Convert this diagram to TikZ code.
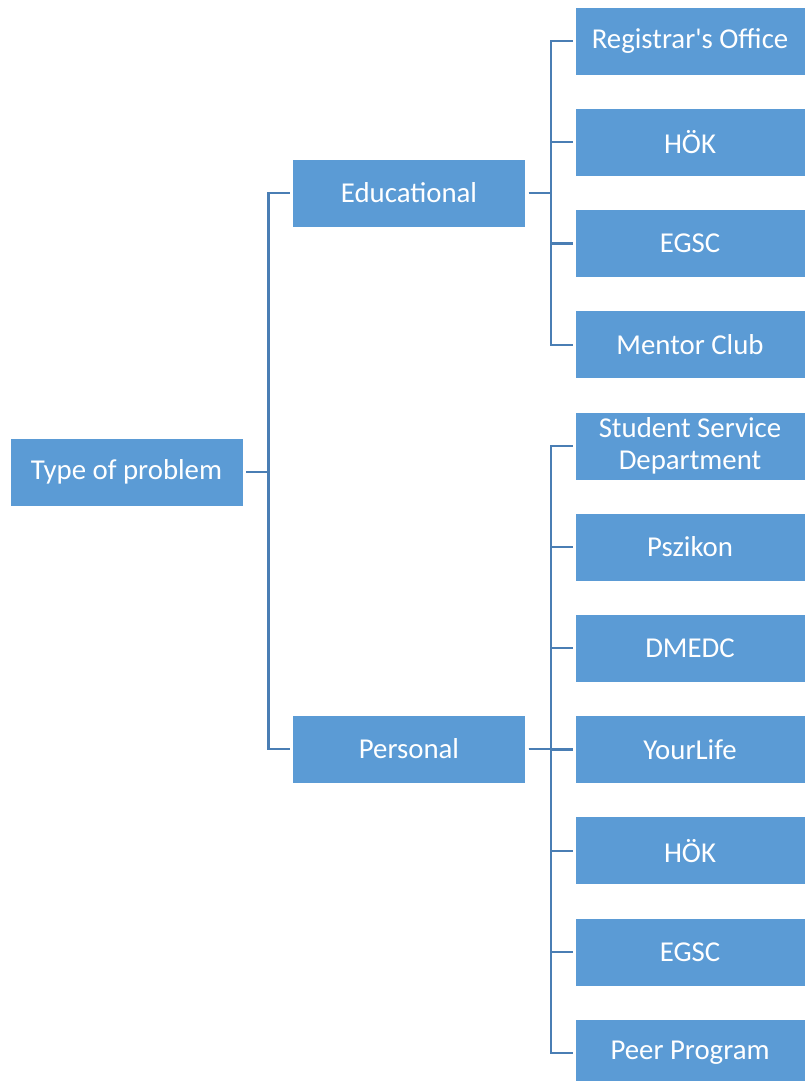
\documentclass[tikz,border=0pt]{standalone}
\usepackage{fontspec}
\setmainfont{Carlito}
\usetikzlibrary{calc}

\definecolor{boxblue}{HTML}{5B9BD5}
\definecolor{lineblue}{HTML}{4A7EB4}

\tikzset{
	box/.style={draw=white, line width=0.6pt, fill=boxblue, text=white, minimum height=68pt, inner sep=0pt, align=center, font=\fontsize{28.8}{32}\selectfont},
	midbox/.style={box, minimum width=233pt},
	leafbox/.style={box, minimum width=230pt},
	conn/.style={draw=lineblue, line width=2.6pt},
	leafconn/.style={draw=lineblue, line width=2.2pt}
}

\begin{document}
\begin{tikzpicture}[x=1pt,y=-1pt]
	\useasboundingbox (0,0) rectangle (805,1081);
	\node[midbox] (root) at (126.5,472) {Type of problem};
	\node[midbox] (edu) at (409,193) {Educational};
	\node[midbox] (pers) at (409,749) {Personal};
	% leaves
	\foreach \name/\txt [count=\i from 0] in {reg/Registrar\textquotesingle s Office, hokA/HÖK, egscA/EGSC, mentor/Mentor Club, ssd/{Student Service\\Department}, pszikon/Pszikon, dmedc/DMEDC, yourlife/YourLife, hokB/HÖK, egscB/EGSC, peer/Peer Program}
		\node[leafbox] (\name) at (690,41+101.2*\i) {\txt};
	% connectors
	\draw[conn] ([xshift=3pt]root.east) -- ++(22,0) |- ([xshift=-2pt]edu.west);
	\draw[conn] ([xshift=3pt]root.east) -- ++(22,0) |- ([xshift=-2pt]pers.west);
	\foreach \leaf in {reg,hokA,egscA,mentor}
		\draw[leafconn] ([xshift=3pt]edu.east) -- ++(22,0) |- ([xshift=-2pt]\leaf.west);
	\foreach \leaf in {ssd,pszikon,dmedc,yourlife,hokB,egscB,peer}
		\draw[leafconn] ([xshift=3pt]pers.east) -- ++(22,0) |- ([xshift=-2pt]\leaf.west);
\end{tikzpicture}
\end{document}
